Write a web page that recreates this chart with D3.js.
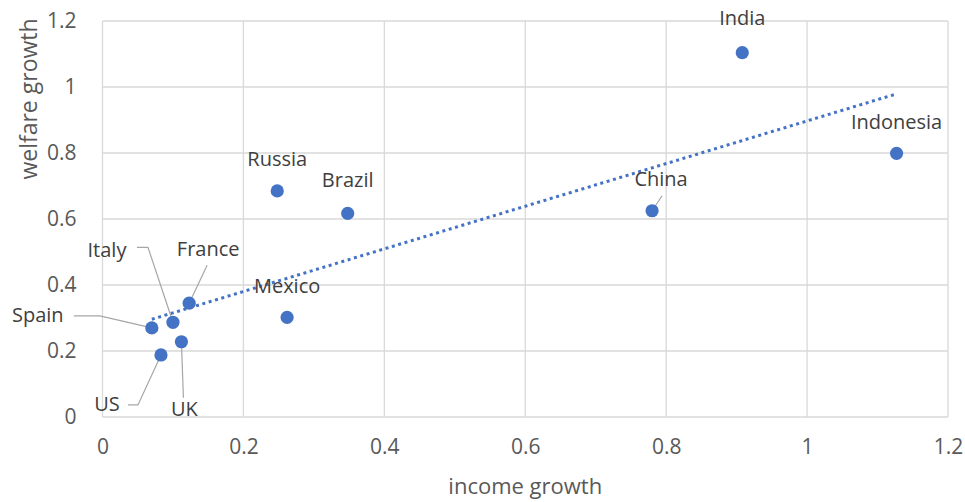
<!DOCTYPE html>
<html>
<head>
<meta charset="utf-8">
<script src="https://cdn.jsdelivr.net/npm/d3@7"></script>
<style>
  body { margin: 0; background: #fff; }
  svg text { font-family: "Open Sans", "Noto Sans", sans-serif; }
</style>
</head>
<body>
<svg id="chart"></svg>
<script>
// countries and their values
const countries = ['Spain', 'Italy', 'France', 'UK', 'US', 'Mexico', 'Russia', 'Brazil', 'China', 'India', 'Indonesia'];
const incomeGrowth = [0.07, 0.10, 0.123, 0.112, 0.083, 0.262, 0.248, 0.348, 0.78, 0.908, 1.127];
const welfareGrowth = [0.27, 0.287, 0.345, 0.228, 0.188, 0.302, 0.685, 0.617, 0.625, 1.104, 0.799];
const xTicks = [0, 0.2, 0.4, 0.6, 0.8, 1, 1.2];
const yTicks = [0, 0.2, 0.4, 0.6, 0.8, 1, 1.2];

// label placement (pixel offsets from the point) and leader line elbows
const labelOffset = {
  India: [0, -35], Indonesia: [0, -32], China: [9, -32], Russia: [0, -32],
  Brazil: [0, -34], Mexico: [0, -32], France: [19, -55], Italy: [-66, -73],
  Spain: [-114, -13], US: [-54, 49], UK: [3, 67],
};
const leaders = {
  China: [[10, -15]],
  France: [[18, -38]],
  Italy: [[-36, -75], [-25, -75]],
  Spain: [[-78, -12], [-52, -12]],
  US: [[-33, 50], [-23, 50]],
  UK: [[2, 56]],
};

const width = 965, height = 502;
const margin = {top: 21, right: 17, bottom: 85, left: 102.5};

const svg = d3.select('#chart').attr('width', width).attr('height', height);

const x = d3.scaleLinear().domain([0, 1.2]).range([margin.left, width - margin.right]);
const y = d3.scaleLinear().domain([0, 1.2]).range([height - margin.bottom, margin.top]);

const data = countries.map((c, i) => ({name: c, x: incomeGrowth[i], y: welfareGrowth[i]}));

// grid
svg.append('g')
  .selectAll('line')
  .data(xTicks)
  .enter()
  .append('line')
  .attr('x1', (d) => x(d)).attr('x2', (d) => x(d))
  .attr('y1', y(0)).attr('y2', y(1.2))
  .attr('stroke', '#d9d9d9').attr('stroke-width', 1.3);

svg.append('g')
  .selectAll('line')
  .data(yTicks)
  .enter()
  .append('line')
  .attr('x1', x(0)).attr('x2', x(1.2))
  .attr('y1', (d) => y(d)).attr('y2', (d) => y(d))
  .attr('stroke', '#d9d9d9').attr('stroke-width', 1.3);

// axes (labels only, Excel style)
const xAxis = svg.append('g')
  .attr('transform', `translate(0,${y(0) + 30})`)
  .call(d3.axisBottom(x).tickValues(xTicks).tickSize(0).tickFormat(d3.format('')));
const yAxis = svg.append('g')
  .attr('transform', `translate(${x(0) - 23},0)`)
  .call(d3.axisLeft(y).tickValues(yTicks).tickSize(0).tickFormat(d3.format('')));
[xAxis, yAxis].forEach((a) => {
  a.select('.domain').remove();
  a.selectAll('text').attr('fill', '#595959').style('font-size', '21px').style('font-family', '"Open Sans", sans-serif');
});
xAxis.selectAll('text').attr('dy', '0.32em').attr('y', 0);

// axis titles
svg.append('text')
  .attr('x', (x(0) + x(1.2)) / 2).attr('y', 485)
  .attr('text-anchor', 'middle').attr('dominant-baseline', 'central')
  .attr('fill', '#595959').style('font-size', '22px')
  .text('income growth');
svg.append('text')
  .attr('transform', 'translate(28,99) rotate(-90)')
  .attr('text-anchor', 'middle').attr('dominant-baseline', 'central')
  .attr('fill', '#595959').style('font-size', '23px')
  .text('welfare growth');

// linear trendline (least squares over the points)
const mx = d3.mean(data, (d) => d.x), my = d3.mean(data, (d) => d.y);
const slope = d3.sum(data, (d) => (d.x - mx) * (d.y - my)) / d3.sum(data, (d) => (d.x - mx) ** 2);
const intercept = my - slope * mx;
const [x0, x1] = d3.extent(data, (d) => d.x);
svg.append('line')
  .attr('x1', x(x0)).attr('y1', y(intercept + slope * x0))
  .attr('x2', x(x1)).attr('y2', y(intercept + slope * x1))
  .attr('stroke', '#4472c4').attr('stroke-width', 3)
  .attr('stroke-dasharray', '3 3.6');

// leader lines
svg.append('g')
  .selectAll('polyline')
  .data(data.filter((d) => leaders[d.name]))
  .enter()
  .append('polyline')
  .attr('points', (d) => {
    const px = x(d.x), py = y(d.y);
    return leaders[d.name].map((p) => [px + p[0], py + p[1]]).concat([[px, py]]).join(' ');
  })
  .attr('fill', 'none').attr('stroke', '#a6a6a6').attr('stroke-width', 1.2);

// points
svg.append('g')
  .selectAll('circle')
  .data(data)
  .enter()
  .append('circle')
  .attr('cx', (d) => x(d.x))
  .attr('cy', (d) => y(d.y))
  .attr('r', 6.6)
  .attr('fill', '#4472c4');

// data labels
svg.append('g')
  .selectAll('text')
  .data(data)
  .enter()
  .append('text')
  .attr('x', (d) => x(d.x) + labelOffset[d.name][0])
  .attr('y', (d) => y(d.y) + labelOffset[d.name][1])
  .attr('text-anchor', 'middle').attr('dominant-baseline', 'central')
  .attr('fill', '#404040').style('font-size', '20px')
  .text((d) => d.name);
</script>
</body>
</html>
